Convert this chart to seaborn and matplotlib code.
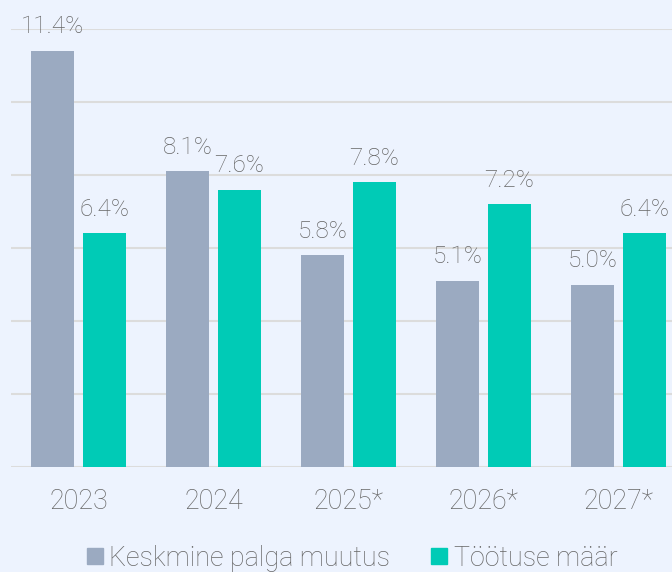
import matplotlib.pyplot as plt
import pandas as pd
import seaborn as sns
from matplotlib.lines import Line2D

# chart data
years = ["2023", "2024", "2025*", "2026*", "2027*"]
wage_change = [11.4, 8.1, 5.8, 5.1, 5.0]
unemployment = [6.4, 7.6, 7.8, 7.2, 6.4]
series_names = ["Keskmine palga muutus", "Töötuse määr"]

colors = {"Keskmine palga muutus": "#9BAAC1", "Töötuse määr": "#00CBB6"}
bg = "#EDF3FE"
text_color = "#666666"

df = pd.DataFrame(
    {
        "year": years * 2,
        "value": wage_change + unemployment,
        "series": [series_names[0]] * len(years) + [series_names[1]] * len(years),
    }
)

sns.set_style("white")
plt.rcParams["font.family"] = ["Roboto", "DejaVu Sans"]

fig = plt.figure(figsize=(6.72, 5.72), dpi=100, facecolor=bg)
ax = fig.add_axes([11 / 672, 105 / 572, 675 / 672, 438 / 572])
ax.set_facecolor(bg)

sns.barplot(
    data=df, x="year", y="value", hue="series", hue_order=series_names,
    palette=colors, width=0.77, gap=0.19, ax=ax, legend=False, saturation=1,
    linewidth=0, edgecolor="none",
)

for container in ax.containers:
    ax.bar_label(
        container, fmt="%.1f%%", padding=9, fontsize=17.5,
        color=text_color, fontweight="light", clip_on=False,
    )

ax.set_ylim(0, 12)
ax.set_yticks(range(0, 13, 2))
ax.set_yticklabels([])
ax.yaxis.grid(True, color="#DCDCDC", linewidth=1.5)
ax.set_axisbelow(True)
ax.tick_params(axis="x", length=0, pad=15, labelsize=19.4, labelcolor=text_color)
for lbl in ax.get_xticklabels():
    lbl.set_fontweight("light")
ax.tick_params(axis="y", length=0)
ax.set_xlabel("")
ax.set_ylabel("")
sns.despine(ax=ax, left=True, bottom=True)

handles = [
    Line2D([], [], marker="s", linestyle="", markersize=11, color=colors[s])
    for s in series_names
]
fig.legend(
    handles, series_names, loc="center", bbox_to_anchor=(352 / 672, 1 - 558 / 572),
    ncol=2, frameon=False, handlelength=0.6, handletextpad=0.25, columnspacing=1.5,
    prop={"size": 19.4, "weight": "light"}, labelcolor=text_color,
)

fig.savefig("out.png", dpi=100, facecolor=bg)
